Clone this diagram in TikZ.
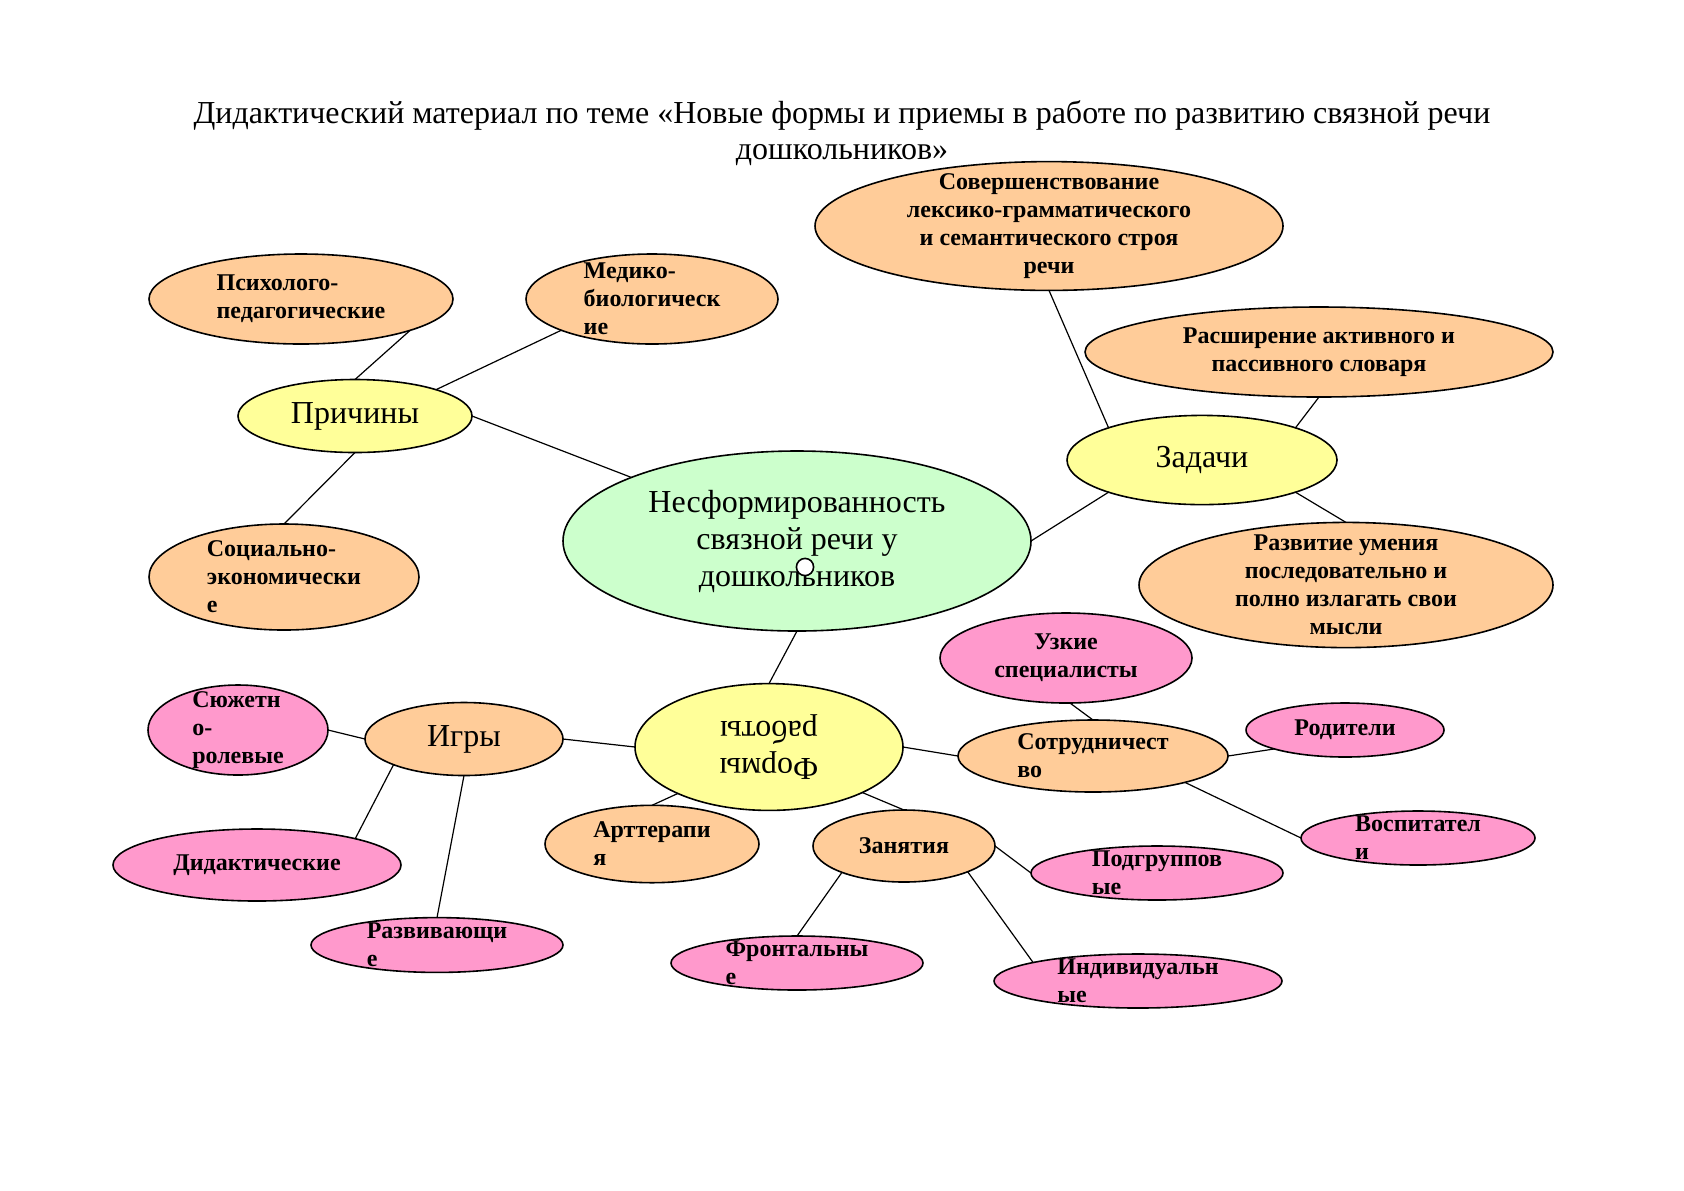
\documentclass[tikz,border=0pt]{standalone}
\usepackage{fontspec}
\setmainfont{Liberation Serif}
\usetikzlibrary{shapes.geometric}
\definecolor{peach}{HTML}{FFCC99}
\definecolor{lemon}{HTML}{FFFF99}
\definecolor{mint}{HTML}{CCFFCC}
\definecolor{rose}{HTML}{FF99CC}
\begin{document}
\begin{tikzpicture}[x=0.5pt, y=-0.5pt, line cap=round, line join=round,
    bub/.style={ellipse, draw, line width=0.8pt, inner sep=-30pt, outer sep=0pt,
      font=\bfseries\fontsize{12}{14}\selectfont},
    big/.style={font=\fontsize{16}{18.5}\selectfont},
    sz/.style 2 args={minimum width=#1pt, minimum height=#2pt}]
    \useasboundingbox (0,0) rectangle (1684,1190);
    \node[font=\fontsize{16}{18}\selectfont, align=center] (title) at (842,133)
      {Дидактический материал по теме «Новые формы и приемы в работе по развитию связной речи\\дошкольников»};
    % centre and causes
    \node[bub, fill=mint, sz={234}{90}, big, align=center] (cen) at (797,541) {Несформированность\\связной речи у\\дошкольников};
    \node[circle, draw, fill=white, line width=0.8pt, minimum size=8.6pt, inner sep=0pt] (dot) at (805,567) {};
    \node[bub, fill=lemon, sz={117}{36.5}, big] (prich) at (355,416) {Причины};
    \node[bub, fill=peach, sz={152}{45}, align=left] (psy) at (301,299) {Психолого-\\педагогические};
    \node[bub, fill=peach, sz={126}{45}, align=left] (med) at (652,299) {Медико-\\биологическ\\ие};
    \node[bub, fill=peach, sz={135}{53}, align=left] (soc) at (284,577) {Социально-\\экономически\\е};
    % tasks
    \node[bub, fill=lemon, sz={135}{44.6}, big] (zad) at (1202,460) {Задачи};
    \node[bub, fill=peach, sz={234}{64.4}, align=center] (sov) at (1049,226) {Совершенствование\\лексико-грамматического\\и семантического строя\\речи};
    \node[bub, fill=peach, sz={234}{45}, align=center] (rassh) at (1319,352) {Расширение активного и\\пассивного словаря};
    \node[bub, fill=peach, sz={207}{62.6}, align=center] (razv) at (1346,585) {Развитие умения\\последовательно и\\полно излагать свои\\мысли};
    % forms of work
    \node[bub, fill=lemon, sz={134}{63.4}, big] (form) at (769,747)
      {\rotatebox{180}{\begin{tabular}{@{}c@{}}Формы\\работы\end{tabular}}};
    \node[bub, fill=peach, sz={99}{36.5}, big] (igry) at (464,739) {Игры};
    \node[bub, fill=rose, sz={90}{45}, align=left] (syuzh) at (238,730) {Сюжетн\\о-\\ролевые};
    \node[bub, fill=rose, sz={144}{36}, align=left] (did) at (257,865) {Дидактические};
    \node[bub, fill=rose, sz={126}{27.4}, align=left] (razvi) at (437,945) {Развивающи\\е};
    \node[bub, fill=peach, sz={107}{38.7}, align=left] (art) at (652,844) {Арттерапи\\я};
    \node[bub, fill=peach, sz={91}{36}, align=left] (zan) at (904,846) {Занятия};
    \node[bub, fill=rose, sz={126}{27}, align=left] (front) at (797,963) {Фронтальны\\е};
    \node[bub, fill=rose, sz={126}{27}, align=left] (podgr) at (1157,873) {Подгруппов\\ые};
    \node[bub, fill=rose, sz={144}{27}, align=left] (indiv) at (1138,981) {Индивидуальн\\ые};
    \node[bub, fill=peach, sz={135}{36}, align=left] (sotr) at (1093,756) {Сотрудничест\\во};
    \node[bub, fill=rose, sz={126}{45}, align=center] (uzk) at (1066,658) {Узкие\\специалисты};
    \node[bub, fill=rose, sz={99}{27}, align=left] (rod) at (1345,730) {Родители};
    \node[bub, fill=rose, sz={117}{27}, align=left] (vosp) at (1418,838) {Воспитател\\и};
    % connectors
    \foreach \a/\b in {prich.90/psy.-16, prich.18/med.-161, prich.-90/soc.90, prich.0/cen.159,
        cen.0/zad.-161, zad.161/sov.-90, zad.19/rassh.-90, zad.-19/razv.90,
        cen.-90/form.90, form.180/igry.0, form.-153/art.90, form.-26/zan.90, form.0/sotr.180,
        igry.180/syuzh.0, igry.-160/did.15, igry.-90/razvi.90,
        zan.-157/front.90, zan.0/podgr.180, zan.-22/indiv.170,
        sotr.90/uzk.-85, sotr.0/rod.-165, sotr.-16/vosp.180}
      \draw[line width=0.6pt] (\a) -- (\b);
\end{tikzpicture}
\end{document}
